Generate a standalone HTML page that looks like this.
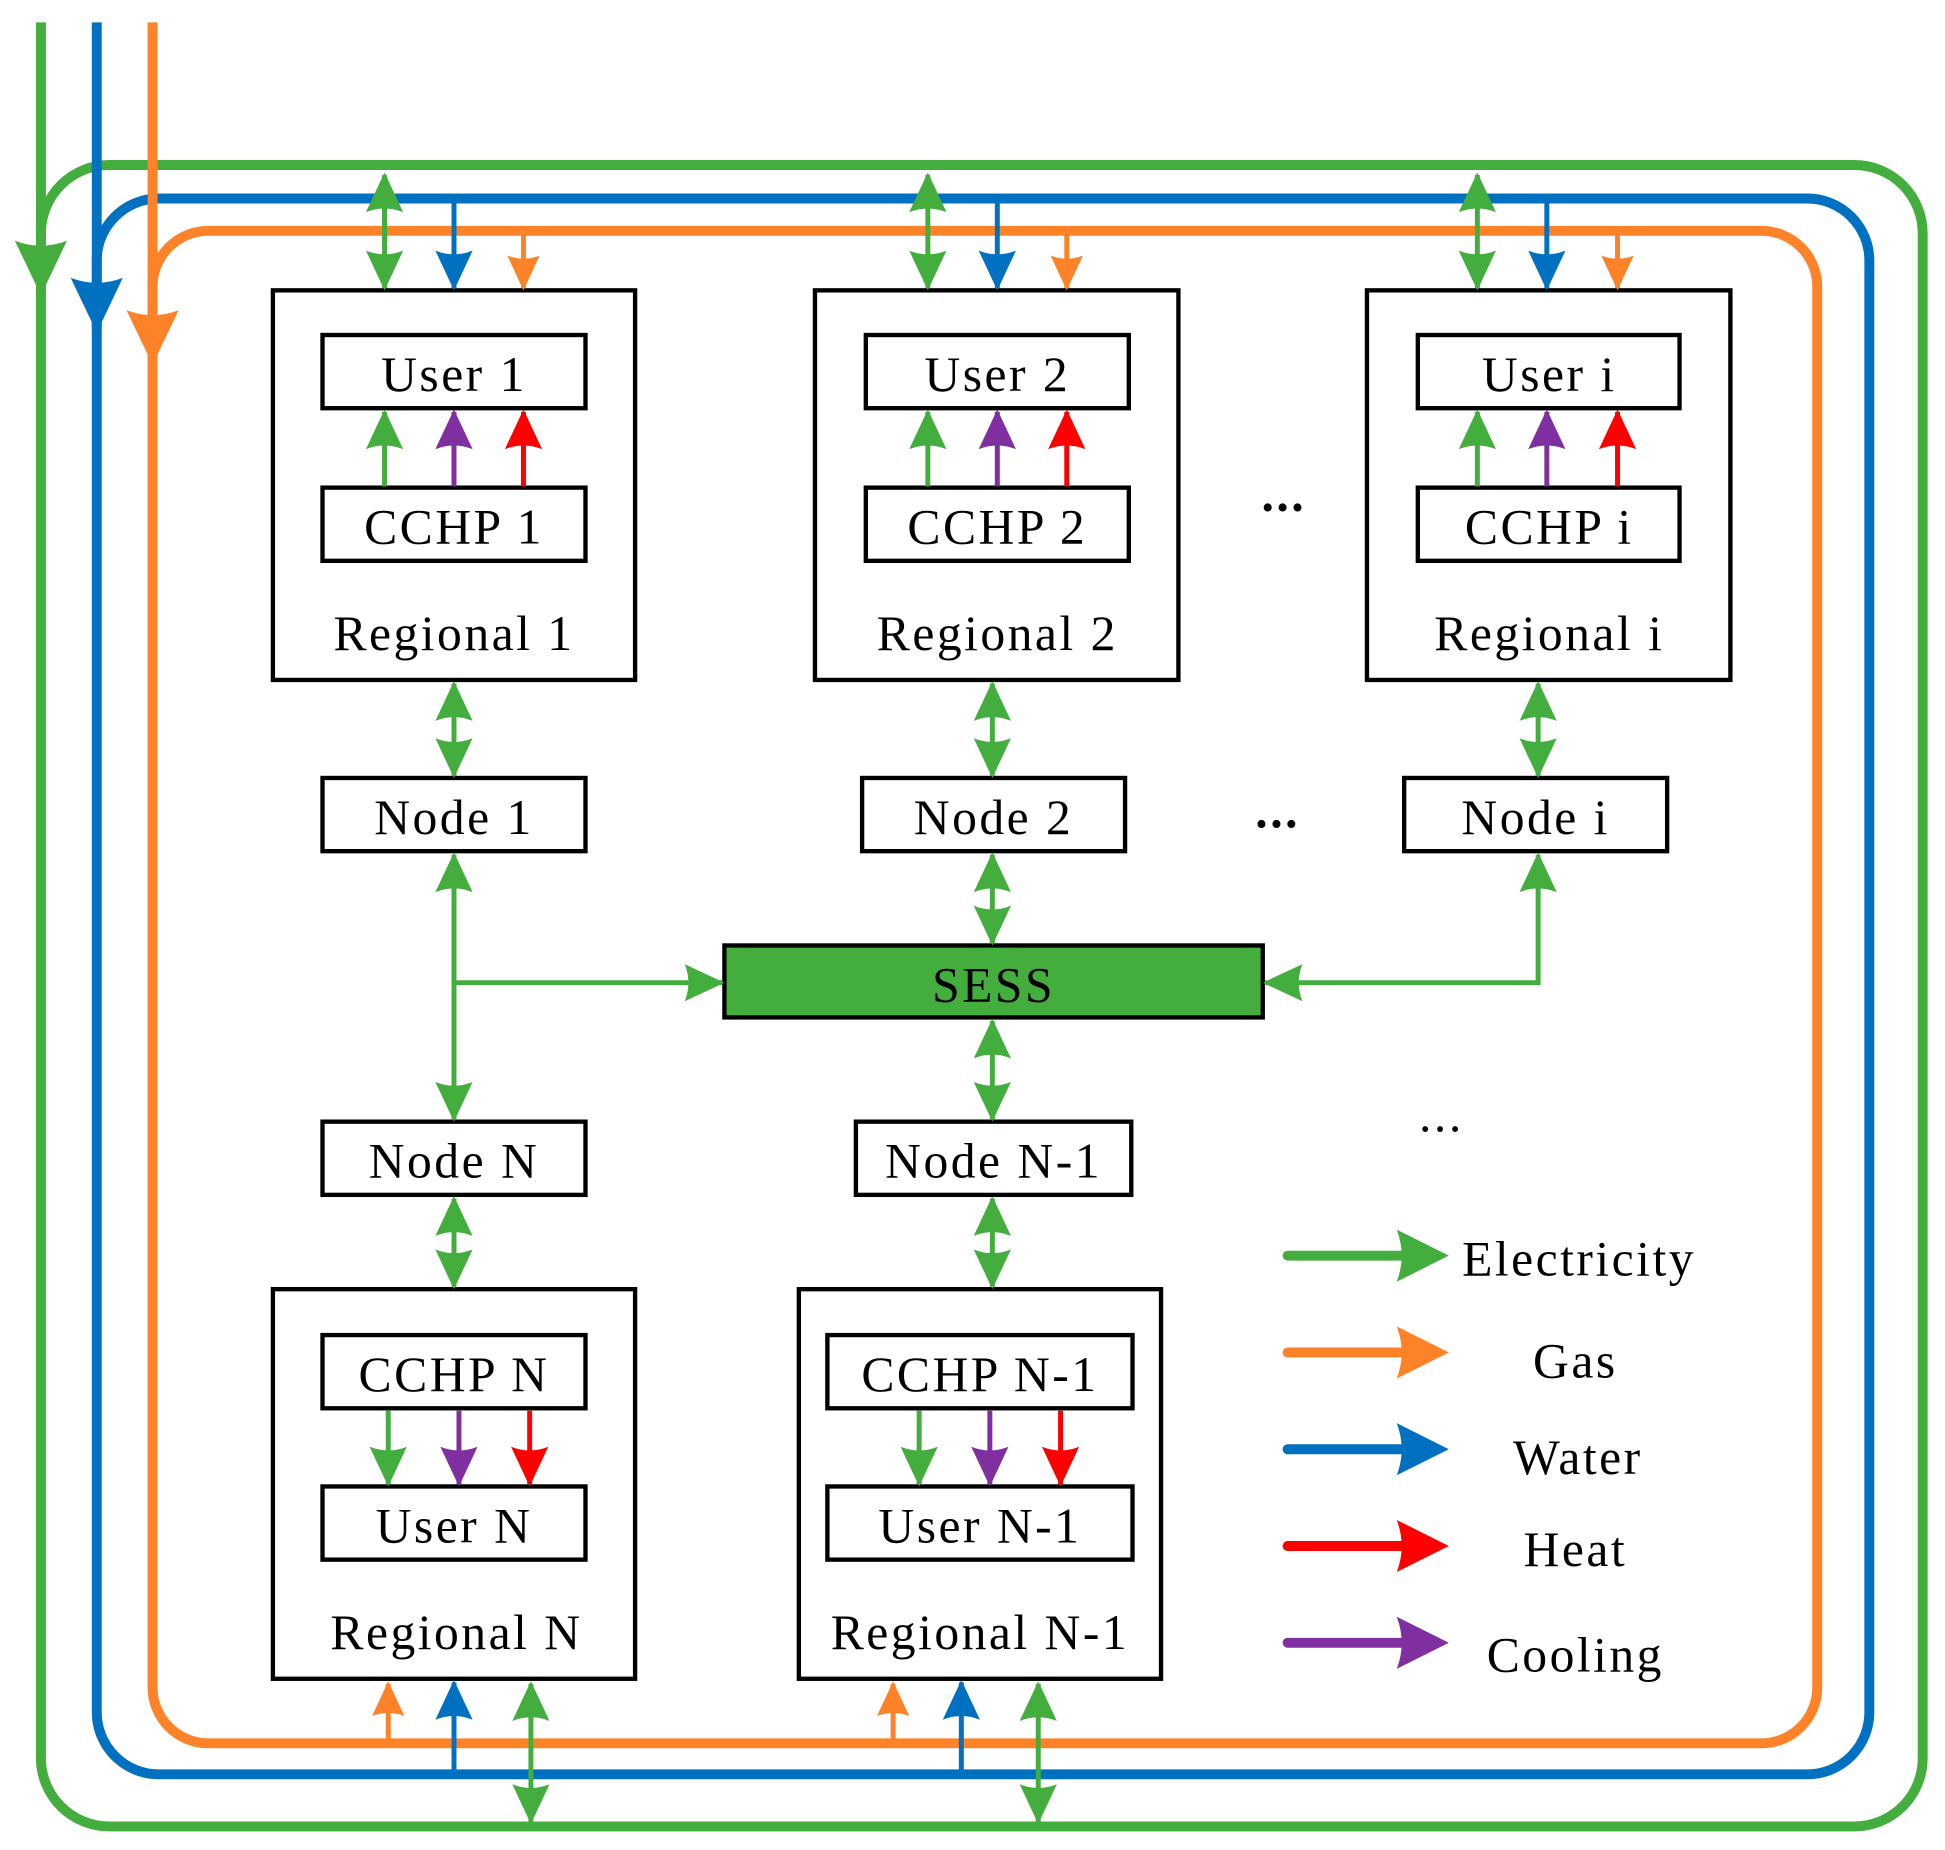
<!DOCTYPE html>
<html><head><meta charset="utf-8"><style>html,body{margin:0;padding:0;background:#fff}svg{display:block}</style></head>
<body>
<svg width="1945" height="1850" viewBox="0 0 1568 1491" preserveAspectRatio="none" xmlns="http://www.w3.org/2000/svg" font-family="Liberation Serif, serif">
<defs>
<marker id="g" markerUnits="userSpaceOnUse" viewBox="-32 -17 34 34" refX="0" refY="0" markerWidth="34" markerHeight="34" orient="auto-start-reverse"><path d="M2,0 L-30,-15 Q-24,0 -30,15 Z" fill="#43ae3d"/></marker>
<marker id="b" markerUnits="userSpaceOnUse" viewBox="-32 -17 34 34" refX="0" refY="0" markerWidth="34" markerHeight="34" orient="auto-start-reverse"><path d="M2,0 L-30,-15 Q-24,0 -30,15 Z" fill="#0070c0"/></marker>
<marker id="o" markerUnits="userSpaceOnUse" viewBox="-32 -17 34 34" refX="0" refY="0" markerWidth="34" markerHeight="34" orient="auto-start-reverse"><path d="M2,0 L-26,-13 Q-21,0 -26,13 Z" fill="#fd8228"/></marker>
<marker id="r" markerUnits="userSpaceOnUse" viewBox="-32 -17 34 34" refX="0" refY="0" markerWidth="34" markerHeight="34" orient="auto-start-reverse"><path d="M2,0 L-30,-15 Q-24,0 -30,15 Z" fill="#ff0000"/></marker>
<marker id="p" markerUnits="userSpaceOnUse" viewBox="-32 -17 34 34" refX="0" refY="0" markerWidth="34" markerHeight="34" orient="auto-start-reverse"><path d="M2,0 L-30,-15 Q-24,0 -30,15 Z" fill="#7f2fa0"/></marker>
<marker id="G" markerUnits="userSpaceOnUse" viewBox="-46 -24 48 48" refX="0" refY="0" markerWidth="48" markerHeight="48" orient="auto"><path d="M2,0 L-42,-21 Q-34,0 -42,21 Z" fill="#43ae3d"/></marker>
<marker id="B" markerUnits="userSpaceOnUse" viewBox="-46 -24 48 48" refX="0" refY="0" markerWidth="48" markerHeight="48" orient="auto"><path d="M2,0 L-42,-21 Q-34,0 -42,21 Z" fill="#0070c0"/></marker>
<marker id="O" markerUnits="userSpaceOnUse" viewBox="-46 -24 48 48" refX="0" refY="0" markerWidth="48" markerHeight="48" orient="auto"><path d="M2,0 L-42,-21 Q-34,0 -42,21 Z" fill="#fd8228"/></marker>
</defs>

<g fill="none" stroke-width="8">
<rect x="33" y="133" width="1517" height="1339" rx="55" stroke="#43ae3d"/>
<rect x="78" y="160" width="1429" height="1270" rx="50" stroke="#0070c0"/>
<rect x="123" y="186" width="1342" height="1219" rx="45" stroke="#fd8228"/>
</g>
<g stroke-width="8" fill="none">
<line x1="33" y1="18" x2="33" y2="236" stroke="#43ae3d" marker-end="url(#G)"/>
<line x1="78" y1="18" x2="78" y2="266" stroke="#0070c0" marker-end="url(#B)"/>
<line x1="123" y1="18" x2="123" y2="292" stroke="#fd8228" marker-end="url(#O)"/>
</g>

<g fill="#fff" stroke="#000" stroke-width="3.5">
<rect x="220" y="234" width="292" height="314"/>
<rect x="657" y="234" width="293" height="314"/>
<rect x="1102" y="234" width="293" height="314"/>
<rect x="260" y="270" width="212" height="59"/>
<rect x="260" y="393" width="212" height="59"/>
<rect x="698" y="270" width="212" height="59"/>
<rect x="698" y="393" width="212" height="59"/>
<rect x="1143" y="270" width="211" height="59"/>
<rect x="1143" y="393" width="211" height="59"/>
<rect x="260" y="627" width="212" height="59"/>
<rect x="695" y="627" width="212" height="59"/>
<rect x="1132" y="627" width="212" height="59"/>
<rect x="584" y="762" width="434" height="58" fill="#43ae3d"/>
<rect x="260" y="904" width="212" height="59"/>
<rect x="690" y="904" width="222" height="59"/>
<rect x="220" y="1039" width="292" height="314"/>
<rect x="644" y="1039" width="292" height="314"/>
<rect x="260" y="1076" width="212" height="59"/>
<rect x="260" y="1198" width="212" height="59"/>
<rect x="667" y="1076" width="246" height="59"/>
<rect x="667" y="1198" width="246" height="59"/>
</g>

<g stroke-width="4" fill="none">
<line x1="310" y1="141" x2="310" y2="232" stroke="#43ae3d" marker-start="url(#g)" marker-end="url(#g)"/>
<line x1="366" y1="160" x2="366" y2="232" stroke="#0070c0" marker-end="url(#b)"/>
<line x1="422" y1="186" x2="422" y2="232" stroke="#fd8228" marker-end="url(#o)"/>
<line x1="748" y1="141" x2="748" y2="232" stroke="#43ae3d" marker-start="url(#g)" marker-end="url(#g)"/>
<line x1="804" y1="160" x2="804" y2="232" stroke="#0070c0" marker-end="url(#b)"/>
<line x1="860" y1="186" x2="860" y2="232" stroke="#fd8228" marker-end="url(#o)"/>
<line x1="1191" y1="141" x2="1191" y2="232" stroke="#43ae3d" marker-start="url(#g)" marker-end="url(#g)"/>
<line x1="1247" y1="160" x2="1247" y2="232" stroke="#0070c0" marker-end="url(#b)"/>
<line x1="1304" y1="186" x2="1304" y2="232" stroke="#fd8228" marker-end="url(#o)"/>
<line x1="310" y1="392" x2="310" y2="332" stroke="#43ae3d" marker-end="url(#g)"/>
<line x1="366" y1="392" x2="366" y2="332" stroke="#7f2fa0" marker-end="url(#p)"/>
<line x1="422" y1="392" x2="422" y2="332" stroke="#ff0000" marker-end="url(#r)"/>
<line x1="748" y1="392" x2="748" y2="332" stroke="#43ae3d" marker-end="url(#g)"/>
<line x1="804" y1="392" x2="804" y2="332" stroke="#7f2fa0" marker-end="url(#p)"/>
<line x1="860" y1="392" x2="860" y2="332" stroke="#ff0000" marker-end="url(#r)"/>
<line x1="1191" y1="392" x2="1191" y2="332" stroke="#43ae3d" marker-end="url(#g)"/>
<line x1="1247" y1="392" x2="1247" y2="332" stroke="#7f2fa0" marker-end="url(#p)"/>
<line x1="1304" y1="392" x2="1304" y2="332" stroke="#ff0000" marker-end="url(#r)"/>
<line x1="366" y1="551" x2="366" y2="625" stroke="#43ae3d" marker-start="url(#g)" marker-end="url(#g)"/>
<line x1="800" y1="551" x2="800" y2="625" stroke="#43ae3d" marker-start="url(#g)" marker-end="url(#g)"/>
<line x1="1240" y1="551" x2="1240" y2="625" stroke="#43ae3d" marker-start="url(#g)" marker-end="url(#g)"/>
<line x1="366" y1="689" x2="366" y2="902" stroke="#43ae3d" marker-start="url(#g)" marker-end="url(#g)"/>
<line x1="366" y1="792" x2="582" y2="792" stroke="#43ae3d" marker-end="url(#g)"/>
<line x1="800" y1="689" x2="800" y2="760" stroke="#43ae3d" marker-start="url(#g)" marker-end="url(#g)"/>
<polyline points="1020,792 1240,792 1240,689" stroke="#43ae3d" marker-start="url(#g)" marker-end="url(#g)"/>
<line x1="800" y1="823" x2="800" y2="902" stroke="#43ae3d" marker-start="url(#g)" marker-end="url(#g)"/>
<line x1="366" y1="966" x2="366" y2="1037" stroke="#43ae3d" marker-start="url(#g)" marker-end="url(#g)"/>
<line x1="800" y1="966" x2="800" y2="1037" stroke="#43ae3d" marker-start="url(#g)" marker-end="url(#g)"/>
<line x1="313" y1="1137" x2="313" y2="1196" stroke="#43ae3d" marker-end="url(#g)"/>
<line x1="370" y1="1137" x2="370" y2="1196" stroke="#7f2fa0" marker-end="url(#p)"/>
<line x1="427" y1="1137" x2="427" y2="1196" stroke="#ff0000" marker-end="url(#r)"/>
<line x1="741" y1="1137" x2="741" y2="1196" stroke="#43ae3d" marker-end="url(#g)"/>
<line x1="798" y1="1137" x2="798" y2="1196" stroke="#7f2fa0" marker-end="url(#p)"/>
<line x1="855" y1="1137" x2="855" y2="1196" stroke="#ff0000" marker-end="url(#r)"/>
<line x1="313" y1="1405" x2="313" y2="1357" stroke="#fd8228" marker-end="url(#o)"/>
<line x1="366" y1="1430" x2="366" y2="1356" stroke="#0070c0" marker-end="url(#b)"/>
<line x1="428" y1="1468" x2="428" y2="1357" stroke="#43ae3d" marker-start="url(#g)" marker-end="url(#g)"/>
<line x1="720" y1="1405" x2="720" y2="1357" stroke="#fd8228" marker-end="url(#o)"/>
<line x1="775" y1="1430" x2="775" y2="1356" stroke="#0070c0" marker-end="url(#b)"/>
<line x1="837" y1="1468" x2="837" y2="1357" stroke="#43ae3d" marker-start="url(#g)" marker-end="url(#g)"/>
</g>

<g font-size="40" text-anchor="middle" fill="#000" letter-spacing="2">
<text x="366" y="315">User 1</text>
<text x="366" y="438">CCHP 1</text>
<text x="366" y="524">Regional 1</text>
<text x="804" y="315">User 2</text>
<text x="804" y="438">CCHP 2</text>
<text x="804" y="524">Regional 2</text>
<text x="1249" y="315">User i</text>
<text x="1249" y="438">CCHP i</text>
<text x="1249" y="524">Regional i</text>
<text x="366" y="672">Node 1</text>
<text x="801" y="672">Node 2</text>
<text x="1238" y="672">Node i</text>
<text x="801" y="807">SESS</text>
<text x="366" y="949">Node N</text>
<text x="801" y="949">Node N-1</text>
<text x="366" y="1121">CCHP N</text>
<text x="366" y="1243">User N</text>
<text x="368" y="1329">Regional N</text>
<text x="790" y="1121">CCHP N-1</text>
<text x="790" y="1243">User N-1</text>
<text x="790" y="1329">Regional N-1</text>
<text x="1035" y="412" font-weight="bold">...</text>
<text x="1030" y="667" font-weight="bold">...</text>
<text x="1162" y="912">...</text>
<text x="1273" y="1028">Electricity</text>
<text x="1270" y="1110">Gas</text>
<text x="1272" y="1188">Water</text>
<text x="1270" y="1262">Heat</text>
<text x="1270" y="1347">Cooling</text>
</g>

<g stroke-width="8" stroke-linecap="round">
<line x1="1038" y1="1012" x2="1135" y2="1012" stroke="#43ae3d"/>
<line x1="1038" y1="1090" x2="1135" y2="1090" stroke="#fd8228"/>
<line x1="1038" y1="1168" x2="1135" y2="1168" stroke="#0070c0"/>
<line x1="1038" y1="1246" x2="1135" y2="1246" stroke="#ff0000"/>
<line x1="1038" y1="1324" x2="1135" y2="1324" stroke="#7f2fa0"/>
</g>
<path d="M1168,1012 L1126,991 Q1134,1012 1126,1033 Z" fill="#43ae3d"/>
<path d="M1168,1090 L1126,1069 Q1134,1090 1126,1111 Z" fill="#fd8228"/>
<path d="M1168,1168 L1126,1147 Q1134,1168 1126,1189 Z" fill="#0070c0"/>
<path d="M1168,1246 L1126,1225 Q1134,1246 1126,1267 Z" fill="#ff0000"/>
<path d="M1168,1324 L1126,1303 Q1134,1324 1126,1345 Z" fill="#7f2fa0"/>
</svg>
</body></html>
